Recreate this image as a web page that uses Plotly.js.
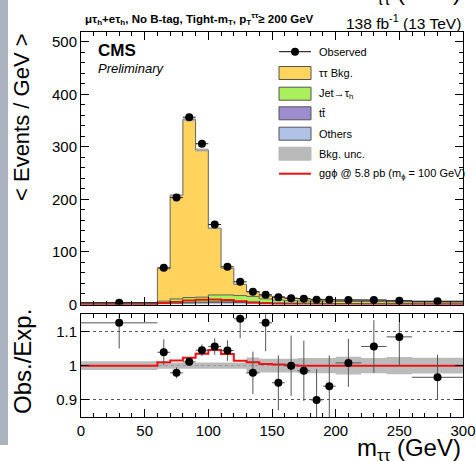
<!DOCTYPE html>
<html><head><meta charset="utf-8">
<script src="https://cdn.plot.ly/plotly-3.0.1.min.js"></script>
<style>html,body{margin:0;padding:0;background:#fff;}#c{width:476px;height:461px;}</style>
</head><body><div id="c"></div>
<script>
// ---- data (per GeV), bins in m_tautau (GeV) ----
const binEdges = [0,60,70,80,90,100,110,120,130,140,150,160,170,180,190,200,220,240,260,300];
const observed = [3.5,69.8,203.4,356.4,305.9,152.2,71.7,43.3,24.3,18.5,14,12,11,9,9,8.6,8.6,7.3,6];
const observedErr = [0.25,2.6,4.5,6,5.5,3.9,2.7,2.1,1.6,1.4,1.2,1.1,1.1,0.95,0.95,0.65,0.65,0.6,0.4];
const tautauBkg = [0.8,61.6,197.4,338.7,280,126.8,50.8,21.5,9.1,5.7,6.4,4.7,4.4,3.5,3.3,2.6,2.5,1.6,1.7];
const jetFakes = [1.5,4.5,7.5,9.5,9.5,13,13,12,11,7,5,4.5,4.3,4.2,4.2,4,4,3.6,3.3];
const ttbar = [0.2,0.4,0.6,0.8,1,1.2,1.2,1.2,1.1,1,0.9,0.8,0.7,0.7,0.6,0.6,0.5,0.5,0.4];
const others = [0.6,1.5,2.5,3,3.5,4,4,3.8,3.3,2.8,2.4,2,1.8,1.6,1.5,1.3,1.1,1,0.8];
const bkgRelUnc = [0.013,0.009,0.009,0.009,0.009,0.009,0.009,0.009,0.024,0.02,0.02,0.02,0.022,0.022,0.022,0.026,0.022,0.025,0.023];
const signal = [0,3,5,7.5,9,9.5,8.5,6,4,2,1,0.5,0,0,0,0,0,0,0];
const ratio = [1.125,1.039,0.979,1.011,1.045,1.056,1.044,1.137,0.979,1.125,0.95,1.0,0.985,0.90,0.94,1.008,1.056,1.084,0.966];
const ratioErr = [0.075,0.038,0.016,0.012,0.017,0.024,0.03,0.057,0.062,0.083,0.08,0.088,0.088,0.09,0.09,0.07,0.077,0.085,0.066];
const sigRatio = [1.0,1.010,1.015,1.023,1.035,1.046,1.034,1.014,1.010,1.005,1.003,1.001,1.0,1.0,1.0,1.0,1.0,1.0,1.0];
const legendLabels = ['Observed','ττ Bkg.','Jet→τ<sub>h</sub>','tt̄','Others','Bkg. unc.','ggϕ @ 5.8 pb (m<sub>ϕ</sub> = 100 GeV)'];

// ---- helpers ----
const n = observed.length;
const centers = [], halfW = [];
for (let i=0;i<n;i++){ centers.push((binEdges[i]+binEdges[i+1])/2); halfW.push((binEdges[i+1]-binEdges[i])/2); }
const stepY = v => v.concat([v[v.length-1]]);
const cum = (...arrs) => arrs[0].map((_,i)=>arrs.reduce((s,a)=>s+a[i],0));
const c1 = cum(others), c2 = cum(others,ttbar), c3 = cum(others,ttbar,jetFakes), c4 = cum(others,ttbar,jetFakes,tautauBkg);
const uncLo = c4.map((v,i)=>v*(1-bkgRelUnc[i])), uncHi = c4.map((v,i)=>v*(1+bkgRelUnc[i]));
const rLo = bkgRelUnc.map(u=>1-u), rHi = bkgRelUnc.map(u=>1+u);

const COL = {tt:'#ffd35c', jet:'#aaf05c', top:'#9d8dcf', oth:'#b0c3e6', unc:'rgba(165,165,165,0.75)', sig:'#ee1111'};
const edge = {color:'#555', width:0.9};
const noLine = {shape:'hv', width:0, color:'rgba(0,0,0,0)'};
const step = (y, extra) => Object.assign({type:'scatter', mode:'lines', x:binEdges, y:stepY(y), line:Object.assign({shape:'hv'}, edge), showlegend:false, hoverinfo:'skip', xaxis:'x', yaxis:'y'}, extra||{});

const traces = [
  step(c1,{fill:'tozeroy', fillcolor:COL.oth}),
  step(c2,{fill:'tonexty', fillcolor:COL.top}),
  step(c3,{fill:'tonexty', fillcolor:COL.jet}),
  step(c4,{fill:'tonexty', fillcolor:COL.tt}),
  step(uncLo,{line:noLine}),
  step(uncHi,{fill:'tonexty', fillcolor:COL.unc, line:noLine}),
  step(signal,{line:{shape:'hv', width:2, color:COL.sig}}),
  {type:'scatter', mode:'markers', x:centers, y:observed, xaxis:'x', yaxis:'y', showlegend:false,
   marker:{color:'#000', size:8},
   error_x:{type:'data', array:halfW, width:0, thickness:1, color:'#222'},
   error_y:{type:'data', array:observedErr, width:0, thickness:1, color:'#222'}},
  // ratio panel
  step(rLo,{xaxis:'x2', yaxis:'y2', line:noLine}),
  step(rHi,{xaxis:'x2', yaxis:'y2', fill:'tonexty', fillcolor:'rgba(170,170,170,0.8)', line:noLine}),
  step(sigRatio,{xaxis:'x2', yaxis:'y2', line:{shape:'hv', width:2, color:COL.sig}}),
  {type:'scatter', mode:'markers', x:centers, y:ratio, xaxis:'x2', yaxis:'y2', showlegend:false,
   marker:{color:'#000', size:8},
   error_x:{type:'data', array:halfW, width:0, thickness:1, color:'#555'},
   error_y:{type:'data', array:ratioErr, width:0, thickness:1, color:'#555'}}
];

const FONT = 'Liberation Sans, Arial, sans-serif';
const axCommon = {ticks:'inside', mirror:'allticks', showline:true, linecolor:'#000', linewidth:1, tickcolor:'#000', zeroline:false, showgrid:false, tickfont:{family:FONT, size:15, color:'#000'}};
const px2x = p => (p-81)/382, py2y = p => (417-p)/385;

// manual legend (shapes + text)
const legRows = [51.7, 73, 93.7, 113.3, 133.7, 153.7, 173.7];
const swX0 = 279, swX1 = 311;
const legShapes = [], legAnn = [];
const boxFill = [null, COL.tt, COL.jet, COL.top, COL.oth, '#b9b9b9', null];
legRows.forEach((ry,i)=>{
  if (boxFill[i]) {
    legShapes.push({type:'rect', xref:'paper', yref:'paper', x0:px2x(swX0), x1:px2x(swX1), y0:py2y(ry+6.5), y1:py2y(ry-6.5),
      fillcolor:boxFill[i], line:{color: i===5 ? '#b9b9b9' : '#555', width:1}});
  }
  legAnn.push({xref:'paper', yref:'paper', x:px2x(317), y:py2y(ry), xanchor:'left', yanchor:'middle', showarrow:false,
    text:legendLabels[i], font:{size:11, family:FONT, color:'#000'}});
});
legShapes.push({type:'line', xref:'paper', yref:'paper', x0:px2x(swX0), x1:px2x(swX1), y0:py2y(legRows[0]), y1:py2y(legRows[0]), line:{color:'#000', width:1}});
legShapes.push({type:'circle', xref:'paper', yref:'paper', x0:px2x(295-4), x1:px2x(295+4), y0:py2y(legRows[0]+4), y1:py2y(legRows[0]-4), fillcolor:'#000', line:{color:'#000', width:0}});
legShapes.push({type:'line', xref:'paper', yref:'paper', x0:px2x(swX0), x1:px2x(swX1), y0:py2y(legRows[6]), y1:py2y(legRows[6]), line:{color:COL.sig, width:2}});

const layout = {
  width:476, height:461, margin:{l:81, r:13, t:32, b:44},
  paper_bgcolor:'#fff', plot_bgcolor:'#fff', showlegend:false,
  font:{family:FONT, color:'#000'},
  xaxis: Object.assign({}, axCommon, {domain:[0,1], range:[0,300], anchor:'y', matches:'x2', showticklabels:false, dtick:50, ticklen:8,
    minor:{dtick:10, ticklen:4, ticks:'inside', tickcolor:'#000'}}),
  yaxis: Object.assign({}, axCommon, {domain:[0.2922,1], range:[0,518.5], anchor:'x', tickvals:[0,100,200,300,400,500], ticklen:8,
    minor:{dtick:20, ticklen:4, ticks:'inside', tickcolor:'#000'}}),
  xaxis2: Object.assign({}, axCommon, {domain:[0,1], range:[0,300], anchor:'y2', ticklen:8, tickvals:[0,50,100,150,200,250,300],
    minor:{dtick:10, ticklen:4, ticks:'inside', tickcolor:'#000'}}),
  yaxis2: Object.assign({}, axCommon, {domain:[0,0.2668], range:[0.85,1.15], anchor:'x2', tickvals:[0.9,1,1.1], ticktext:['0.9','1','1.1'], ticklen:8,
    showgrid:true, gridcolor:'#555', griddash:'dot', gridwidth:1}),
  shapes:[
    {type:'rect', xref:'paper', yref:'paper', x0:px2x(0), x1:px2x(8), y0:py2y(445), y1:py2y(0), fillcolor:'#aab3bf', line:{width:0}, layer:'below'}
  ].concat(legShapes),
  annotations:[
    {xref:'paper', yref:'paper', x:1, y:py2y(11), xanchor:'right', yanchor:'bottom', showarrow:false, text:'m<sub>ττ</sub> (GeV)', font:{size:24, family:FONT}},
    {xref:'paper', yref:'paper', x:px2x(83), y:py2y(19), xanchor:'left', yanchor:'middle', showarrow:false, text:'<b>μτ<sub>h</sub>+eτ<sub>h</sub>, No B-tag, Tight-m<sub>T</sub>, p<sub>T</sub><sup>ττ</sup>≥ 200 GeV</b>', font:{size:11.5, family:FONT}},
    {xref:'paper', yref:'paper', x:1, y:py2y(22), xanchor:'right', yanchor:'middle', showarrow:false, text:'138 fb<sup>-1</sup> (13 TeV)', font:{size:15.5, family:FONT}},
    {xref:'paper', yref:'paper', x:px2x(96), y:py2y(50), xanchor:'left', yanchor:'middle', showarrow:false, text:'<b>CMS</b>', font:{size:17, family:FONT}},
    {xref:'paper', yref:'paper', x:px2x(96), y:py2y(68), xanchor:'left', yanchor:'middle', showarrow:false, text:'<i>Preliminary</i>', font:{size:13, family:FONT}},
    {xref:'paper', yref:'paper', x:px2x(22), y:py2y(117), xanchor:'center', yanchor:'middle', textangle:-90, showarrow:false, text:'&lt; Events / GeV &gt;', font:{size:22, family:FONT}},
    {xref:'paper', yref:'paper', x:px2x(22), y:py2y(362), xanchor:'center', yanchor:'middle', textangle:-90, showarrow:false, text:'Obs./Exp.', font:{size:24, family:FONT}},
    {xref:'paper', yref:'paper', x:1, y:py2y(450), xanchor:'right', yanchor:'middle', showarrow:false, text:'m<sub>ττ</sub> (GeV)', font:{size:24, family:FONT}}
  ].concat(legAnn)
};
Plotly.newPlot('c', traces, layout, {displayModeBar:false, staticPlot:true});
</script></body></html>
